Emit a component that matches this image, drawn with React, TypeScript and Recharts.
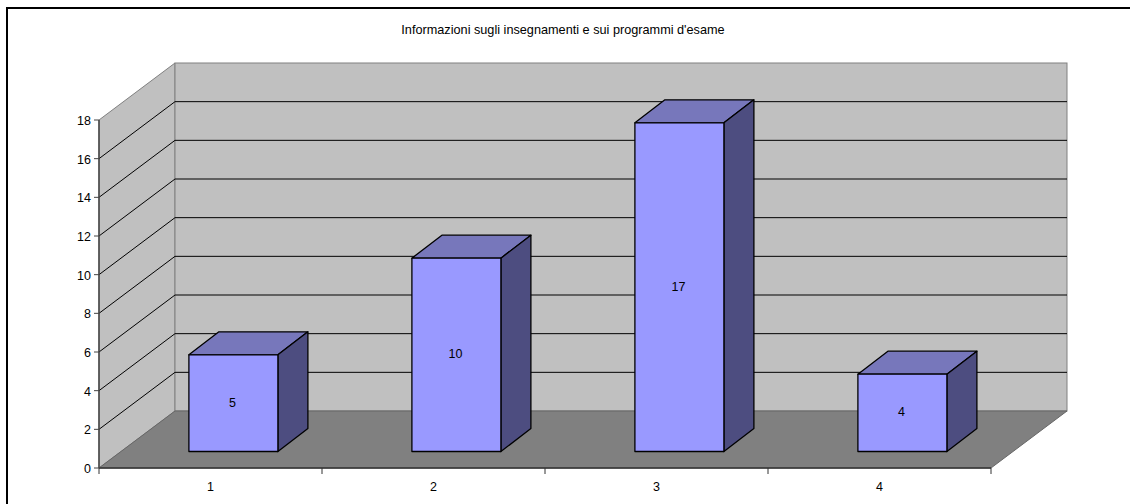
import React from "react";
import {
  BarChart, Bar, XAxis, YAxis, LabelList, Customized, usePlotArea,
} from "recharts";

const TITLE = "Informazioni sugli insegnamenti e sui programmi d'esame";
const CATEGORIES = ["1", "2", "3", "4"];
const VALUES = [5, 10, 17, 4];
const Y_TICKS = [0, 2, 4, 6, 8, 10, 12, 14, 16, 18];

const FONT = "'Liberation Sans', Arial, sans-serif";

// oblique projection of the excel 3d chart
const DEPTH_X = 76;
const DEPTH_Y = 57;
const BAR_SHIFT_X = 23;
const BAR_SHIFT_Y = 16.5;
const BAR_DEPTH_X = 30;
const BAR_DEPTH_Y = 23;

const data = CATEGORIES.map((name, i) => ({ name, value: VALUES[i] }));

function Walls() {
  const plot = usePlotArea();
  if (!plot) return null;
  const { x, y, width, height } = plot;
  const right = x + width;
  const bottom = y + height;
  const yOf = (v: number) => bottom - (v / 18) * height;
  const bx = x + DEPTH_X;

  return (
    <g>
      <polygon
        points={`${x},${bottom} ${x},${y} ${bx},${y - DEPTH_Y} ${bx},${bottom - DEPTH_Y}`}
        fill="#c0c0c0" stroke="#808080"
      />
      <rect x={bx} y={y - DEPTH_Y} width={width} height={height} fill="#c0c0c0" stroke="#808080" />
      <polygon
        points={`${x},${bottom} ${right},${bottom} ${right + DEPTH_X},${bottom - DEPTH_Y} ${bx},${bottom - DEPTH_Y}`}
        fill="#808080" stroke="#666666"
      />
      {Y_TICKS.filter((t) => t > 0 && t < 18).map((t) => (
        <path
          key={t}
          d={`M${x},${yOf(t)} L${bx},${yOf(t) - DEPTH_Y} H${bx + width}`}
          fill="none" stroke="#000" strokeWidth={1}
        />
      ))}
      {CATEGORIES.map((_, i) => i).concat(CATEGORIES.length).map((i) => {
        const tx = x + (i * width) / CATEGORIES.length;
        return <line key={i} x1={tx} x2={tx} y1={bottom} y2={bottom + 6} stroke="#333" />;
      })}
      <text x={563} y={34} textAnchor="middle" fontSize={12.7} fontFamily={FONT} fill="#000">
        {TITLE}
      </text>
    </g>
  );
}

function Box(props: any) {
  const { x, y, width, height } = props;
  const l = x + BAR_SHIFT_X;
  const t = y - BAR_SHIFT_Y;
  const r = l + width;
  const b = t + height;
  const dx = BAR_DEPTH_X;
  const dy = BAR_DEPTH_Y;
  return (
    <g stroke="#000" strokeWidth={1.3} strokeLinejoin="round">
      <polygon points={`${l},${t} ${r},${t} ${r + dx},${t - dy} ${l + dx},${t - dy}`} fill="#7777bb" />
      <polygon points={`${r},${t} ${r + dx},${t - dy} ${r + dx},${b - dy} ${r},${b}`} fill="#4d4d80" />
      <rect x={l} y={t} width={width} height={height} fill="#9999ff" />
    </g>
  );
}

function BoxLabel(props: any) {
  const { x, y, width, height, value } = props;
  return (
    <text
      x={x + BAR_SHIFT_X + width / 2 - 1}
      y={y - BAR_SHIFT_Y + height / 2 + 3.5}
      textAnchor="middle" fontSize={12.5} fontFamily={FONT} fill="#000"
    >
      {value}
    </text>
  );
}

export default function App() {
  return (
    <div style={{ position: "absolute", left: 0, top: 0, width: 1130, height: 504, overflow: "hidden", background: "#fff" }}>
      <div style={{ position: "absolute", left: 6, top: 7, right: 0, bottom: 0, borderLeft: "2px solid #000", borderTop: "2px solid #000" }} />
      <div style={{ position: "absolute", left: 0, top: 0 }}>
        <BarChart
          width={1130}
          height={504}
          data={data}
          margin={{ top: 120, right: 139, bottom: 0, left: 0 }}
          barCategoryGap="30%"
        >
          <Customized component={<Walls />} />
          <XAxis
            dataKey="name"
            height={36}
            tickLine={false}
            tickMargin={8}
            stroke="#333"
            axisLine={{ strokeWidth: 1.5 }}
            tick={{ fontSize: 12.5, fontFamily: FONT, fill: "#000" }}
          />
          <YAxis
            width={99}
            domain={[0, 18]}
            ticks={Y_TICKS}
            interval={0}
            tickSize={5}
            tickMargin={3}
            stroke="#444"
            axisLine={{ strokeWidth: 1.5 }}
            tick={{ fontSize: 12.5, fontFamily: FONT, fill: "#000", dy: 0.7 }}
          />
          <Bar dataKey="value" isAnimationActive={false} shape={<Box />}>
            <LabelList dataKey="value" content={<BoxLabel />} />
          </Bar>
        </BarChart>
      </div>
    </div>
  );
}
